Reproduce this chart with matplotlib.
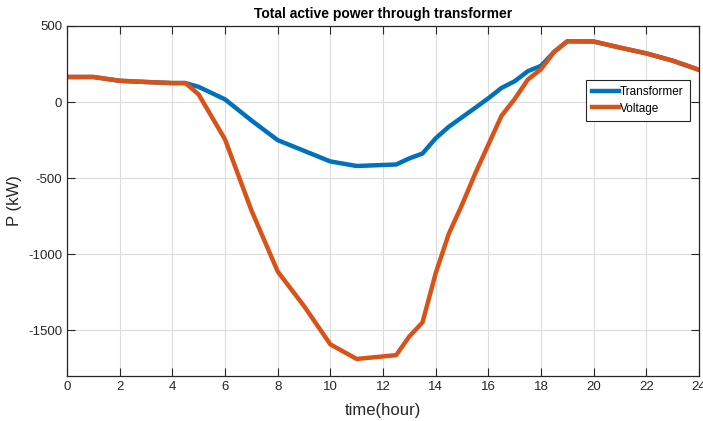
import matplotlib
matplotlib.use("Agg")
import matplotlib.pyplot as plt

plt.rcParams['font.family'] = ['Liberation Sans', 'DejaVu Sans']
plt.rcParams['axes.unicode_minus'] = False

# hours
t = [0, 1, 2, 3, 4, 4.5, 5, 6, 7, 8, 9, 10, 11, 12.5, 13, 13.5, 14, 14.5,
     15, 15.5, 16, 16.5, 17, 17.5, 18, 18.5, 19, 20, 21, 22, 23, 24]

# active power (kW)
p_transformer = [165, 165, 140, 132, 125, 125, 100, 18, -120, -250, -320, -390,
                 -420, -410, -370, -338, -238, -162, -100, -38, 25, 93, 137,
                 203, 238, 330, 400, 398, 358, 320, 272, 212]
p_voltage = [165, 165, 140, 132, 125, 125, 50, -245, -710, -1113, -1340, -1592,
             -1688, -1663, -1540, -1448, -1125, -865, -675, -470, -280, -90, 20,
             148, 216, 330, 400, 398, 358, 320, 272, 212]

xticks = list(range(0, 25, 2))
yticks = [-1500, -1000, -500, 0, 500]

fig = plt.figure(figsize=(7.03, 4.21), dpi=100)
ax = fig.add_axes([67 / 703, 1 - 376 / 421, 632 / 703, 350 / 421])

ax.plot(t, p_transformer, color='#0072BD', lw=3.2, label='Transformer')
ax.plot(t, p_voltage, color='#D95319', lw=3.2, label='Voltage')

ax.set_xlim(0, 24)
ax.set_ylim(-1800, 500)
ax.set_xticks(xticks)
ax.set_yticks(yticks)
ax.grid(True, color='#dcdcdc', lw=0.8)
ax.set_axisbelow(True)
ax.tick_params(direction='in', length=6, top=True, right=True,
               labelsize=9.5, colors='#262626', width=0.8)
for s in ax.spines.values():
    s.set_color('#262626')
    s.set_linewidth(0.9)

ax.set_title('Total active power through transformer', fontsize=10,
             fontweight='bold', pad=6)
ax.set_xlabel('time(hour)', fontsize=12, color='#262626', labelpad=7)
ax.set_ylabel('P (kW)', fontsize=12, color='#262626', labelpad=4)

leg = ax.legend(loc='upper right', bbox_to_anchor=(0.986, 0.846),
                fontsize=8.5, handlelength=2.3, handletextpad=0.05,
                borderaxespad=0, borderpad=0.55, labelspacing=0.35,
                fancybox=False, framealpha=1)
leg.get_frame().set_edgecolor('#262626')
leg.get_frame().set_linewidth(0.8)

fig.savefig('out.png', dpi=100)
